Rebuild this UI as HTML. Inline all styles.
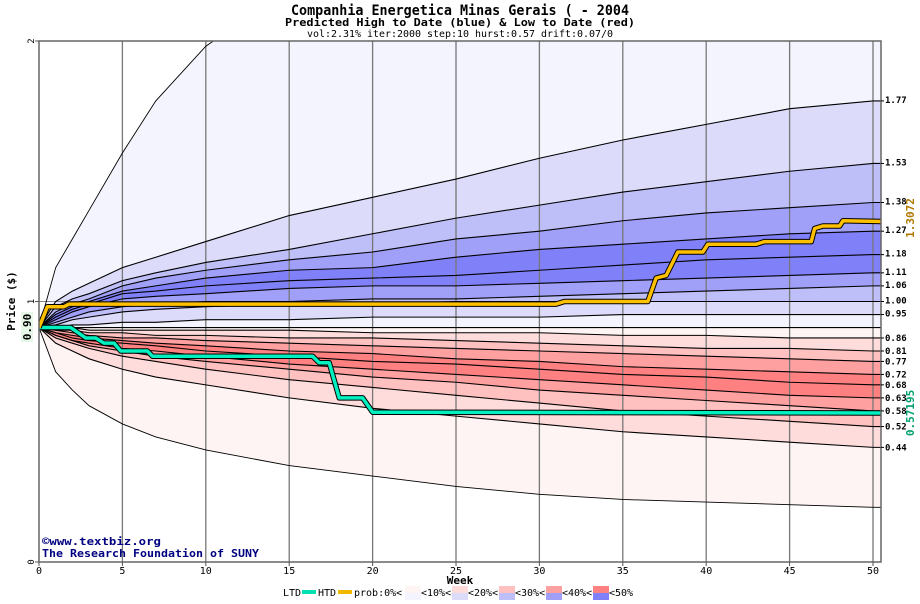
<!DOCTYPE html>
<html><head><meta charset="utf-8"><style>
body{margin:0;background:#fff;width:920px;height:600px;overflow:hidden;font-family:"DejaVu Sans Mono","Liberation Mono",monospace}
svg text{font-family:"DejaVu Sans Mono","Liberation Mono",monospace}
</style></head><body>
<svg id="chart" width="920" height="600" xmlns="http://www.w3.org/2000/svg">
<text x="460" y="15" text-anchor="middle" font-size="14" font-weight="bold" textLength="338" lengthAdjust="spacingAndGlyphs">Companhia Energetica Minas Gerais ( - 2004</text>
<text x="460" y="26" text-anchor="middle" font-size="11" font-weight="bold" textLength="350" lengthAdjust="spacingAndGlyphs">Predicted High to Date (blue) &amp;  Low to Date (red)</text>
<text x="460" y="37" text-anchor="middle" font-size="10" textLength="306" lengthAdjust="spacingAndGlyphs">vol:2.31% iter:2000 step:10 hurst:0.57 drift:0.07/0</text>
<defs><clipPath id="pc"><rect x="39" y="41" width="842" height="521"/></clipPath></defs>
<g id="bands" clip-path="url(#pc)"></g>
<g id="grid"></g>
<g id="curves" clip-path="url(#pc)"></g>
<g id="paths" clip-path="url(#pc)"></g>
<rect x="39" y="41" width="842" height="521" fill="none" stroke="#666" stroke-width="1.5"/>
<g id="axes"></g>
<text transform="translate(15,301) rotate(-90)" text-anchor="middle" font-size="11" font-weight="bold">Price ($)</text>
<rect x="21" y="312" width="12" height="30" fill="#e8f8e8"/>
<text transform="translate(31,327) rotate(-90)" text-anchor="middle" font-size="11" font-weight="bold" fill="#000">0.90</text>
<text x="460" y="584" text-anchor="middle" font-size="11" font-weight="bold">Week</text>
<text x="42" y="545" font-size="11" font-weight="bold" fill="#000080" textLength="119" lengthAdjust="spacingAndGlyphs">©www.textbiz.org</text>
<text x="42" y="557" font-size="11" font-weight="bold" fill="#000080" textLength="217" lengthAdjust="spacingAndGlyphs">The Research Foundation of SUNY</text>
<text transform="translate(914,218) rotate(-90)" text-anchor="middle" font-size="11" font-weight="bold" fill="#b07800">1.3072</text>
<text transform="translate(914,413) rotate(-90)" text-anchor="middle" font-size="11" font-weight="bold" fill="#00a070">0.57195</text>
<g id="legend" font-size="10">
<text x="283" y="596">LTD</text>
<rect x="302" y="590" width="14" height="4" fill="#00e0b0"/>
<text x="318" y="596">HTD</text>
<rect x="338" y="590" width="14" height="4" fill="#f0b800"/>
<text x="354" y="596">prob:0%&lt;</text>
<rect x="405" y="586" width="16" height="7" fill="#fff4f4"/><rect x="405" y="593" width="16" height="7" fill="#f4f4ff"/>
<text x="421" y="596">&lt;10%&lt;</text>
<rect x="452" y="586" width="16" height="7" fill="#ffdcdc"/><rect x="452" y="593" width="16" height="7" fill="#dcdcfa"/>
<text x="468" y="596">&lt;20%&lt;</text>
<rect x="499" y="586" width="16" height="7" fill="#ffc0c0"/><rect x="499" y="593" width="16" height="7" fill="#bebef8"/>
<text x="515" y="596">&lt;30%&lt;</text>
<rect x="546" y="586" width="16" height="7" fill="#ffa0a0"/><rect x="546" y="593" width="16" height="7" fill="#a0a0f8"/>
<text x="562" y="596">&lt;40%&lt;</text>
<rect x="593" y="586" width="16" height="7" fill="#ff8080"/><rect x="593" y="593" width="16" height="7" fill="#8080f8"/>
<text x="609" y="596">&lt;50%</text>
</g>
</svg>
<script>
const weeks=[0,1,2,3,5,7,10,15,20,25,30,35,40,45,50];
const blueMax=[0.90,1.13,1.24,1.35,1.57,1.77,1.98,2.2,2.4,2.5,2.6,2.7,2.8,2.9,3.0];
const blue177=[0.90,1.00,1.04,1.07,1.13,1.17,1.23,1.33,1.40,1.47,1.55,1.62,1.68,1.74,1.77];
const blue153=[0.90,0.98,1.01,1.03,1.08,1.11,1.15,1.20,1.26,1.32,1.37,1.42,1.46,1.50,1.53];
const blue138=[0.90,0.96,0.99,1.01,1.06,1.09,1.12,1.16,1.19,1.24,1.27,1.31,1.34,1.36,1.38];
const blue127=[0.90,0.95,0.98,1.00,1.04,1.06,1.09,1.12,1.13,1.17,1.20,1.22,1.24,1.26,1.27];
const blue118=[0.90,0.94,0.97,0.99,1.03,1.04,1.06,1.08,1.09,1.10,1.12,1.14,1.16,1.17,1.18];
const blue111=[0.90,0.93,0.96,0.98,1.01,1.02,1.03,1.05,1.06,1.06,1.07,1.08,1.09,1.10,1.11];
const blue106=[0.90,0.92,0.94,0.96,0.98,0.99,1.00,1.00,1.01,1.01,1.02,1.03,1.04,1.05,1.06];
const blue100=[0.90,0.91,0.93,0.94,0.96,0.97,0.98,0.99,0.99,1.00,1.00,1.00,1.00,1.00,1.00];
const blue095=[0.90,0.90,0.91,0.91,0.92,0.92,0.93,0.93,0.94,0.94,0.94,0.95,0.95,0.95,0.95];
const base090=[0.90,0.90,0.90,0.90,0.90,0.90,0.90,0.90,0.90,0.90,0.90,0.90,0.90,0.90,0.90];
const red086=[0.90,0.90,0.90,0.89,0.89,0.89,0.89,0.89,0.88,0.88,0.88,0.87,0.87,0.86,0.86];
const red081=[0.90,0.89,0.89,0.88,0.88,0.87,0.87,0.86,0.86,0.85,0.84,0.83,0.82,0.82,0.81];
const red077=[0.90,0.89,0.88,0.87,0.86,0.86,0.85,0.84,0.83,0.82,0.81,0.80,0.79,0.78,0.77];
const red072=[0.90,0.88,0.87,0.86,0.85,0.84,0.83,0.81,0.80,0.78,0.77,0.75,0.74,0.73,0.72];
const red068=[0.90,0.88,0.86,0.85,0.84,0.83,0.81,0.79,0.77,0.76,0.74,0.72,0.71,0.69,0.68];
const red063=[0.90,0.87,0.85,0.84,0.82,0.81,0.79,0.76,0.74,0.72,0.70,0.68,0.66,0.64,0.63];
const red058=[0.90,0.87,0.85,0.83,0.81,0.79,0.77,0.74,0.71,0.69,0.66,0.64,0.62,0.60,0.58];
const red052=[0.90,0.86,0.84,0.82,0.79,0.77,0.74,0.70,0.67,0.64,0.61,0.58,0.56,0.54,0.52];
const red044=[0.90,0.84,0.81,0.78,0.74,0.71,0.68,0.63,0.59,0.56,0.53,0.50,0.48,0.46,0.44];
const redMin=[0.90,0.73,0.66,0.60,0.53,0.48,0.43,0.37,0.33,0.29,0.26,0.24,0.23,0.22,0.21];
const htdWeeks=[0,0.5,1.5,1.8,31,31.5,36.5,37,37.6,38.3,39.8,40.1,43,43.5,46.3,46.5,47,48,48.2,50.5];
const htdVals=[0.90,0.98,0.98,0.99,0.99,1.00,1.00,1.09,1.10,1.19,1.19,1.22,1.22,1.23,1.23,1.28,1.29,1.29,1.31,1.3072];
const ltdWeeks=[0,1.9,2.8,3.4,3.9,4.5,4.9,6.5,6.8,16.4,16.8,17.4,18.0,19.4,20.0,50.5];
const ltdVals=[0.90,0.90,0.86,0.86,0.84,0.84,0.81,0.81,0.79,0.79,0.765,0.765,0.63,0.63,0.575,0.572];
const xTicks=[0,5,10,15,20,25,30,35,40,45,50];
const yTicks=[0,1,2];
const rightLabels=["1.77","1.53","1.38","1.27","1.18","1.11","1.06","1.00","0.95","0.86","0.81","0.77","0.72","0.68","0.63","0.58","0.52","0.44"];

const NS="http://www.w3.org/2000/svg";
const X=w=>39+w*16.68, Y=p=>562-p*260.5;
function mk(tag,parent,attrs){const e=document.createElementNS(NS,tag);for(const k in attrs)e.setAttribute(k,attrs[k]);parent.appendChild(e);return e;}
function pts(vals){const a=weeks.map((w,i)=>[X(w),Y(vals[i])]);a.push([882,Y(vals[vals.length-1])]);return a;}
const curves=[blueMax,blue177,blue153,blue138,blue127,blue118,blue111,blue106,blue100,blue095,base090,red086,red081,red077,red072,red068,red063,red058,red052,red044,redMin];
const names=["blue-max","blue-177","blue-153","blue-138","blue-127","blue-118","blue-111","blue-106","blue-100","blue-095","base-090","red-086","red-081","red-077","red-072","red-068","red-063","red-058","red-052","red-044","red-min"];
const fills=["#f4f4ff","#dcdcfa","#bebef8","#a0a0f8","#8080f8","#8080f8","#a0a0f8","#bebef8","#dcdcfa","#f4f4ff","#fff4f4","#ffdcdc","#ffc0c0","#ffa0a0","#ff8080","#ff8080","#ffa0a0","#ffc0c0","#ffdcdc","#fff4f4"];
const bands=document.getElementById('bands');
for(let i=0;i<curves.length-1;i++){
  const a=pts(curves[i]),b=pts(curves[i+1]).reverse();
  const p=mk('polygon',bands,{points:a.concat(b).map(q=>q.join(',')).join(' '),fill:fills[i]});
  
  
}
const grid=document.getElementById('grid');
xTicks.forEach(t=>{if(t===0)return;const l=mk('line',grid,{x1:X(t),x2:X(t),y1:41,y2:562,stroke:'#777','stroke-width':1.3});
  
  });
const hl=mk('line',grid,{x1:39,x2:881,y1:Y(1),y2:Y(1),stroke:'#888','stroke-width':1});


const cg=document.getElementById('curves');
curves.forEach((c,i)=>{const pl=mk('polyline',cg,{points:pts(c).map(q=>q.join(',')).join(' '),fill:'none',stroke:'#000','stroke-width':(i===0||i===curves.length-1)?0.9:1.1});
  
  });
const pg=document.getElementById('paths');
function step(ws,vs,col,name){const d=ws.map((w,i)=>X(w)+','+Y(vs[i])).join(' ');
  mk('polyline',pg,{points:d,fill:'none',stroke:'#000','stroke-width':5.5,'stroke-linejoin':'round'});
  const l=mk('polyline',pg,{points:d,fill:'none',stroke:col,'stroke-width':3.5,'stroke-linejoin':'round'});
  
  }
step(ltdWeeks,ltdVals,'#00f0c0','ltd-line');
step(htdWeeks,htdVals,'#ffc000','htd-line');
const ax=document.getElementById('axes');
xTicks.forEach(t=>{mk('line',ax,{x1:X(t),x2:X(t),y1:562,y2:566,stroke:'#555'});
  const tx=mk('text',ax,{x:X(t),y:574,'text-anchor':'middle','font-size':10});tx.textContent=t;
  
  });
yTicks.forEach(t=>{mk('line',ax,{x1:35,x2:39,y1:Y(t),y2:Y(t),stroke:'#555'});
  const tx=mk('text',ax,{transform:`translate(34,${Y(t)}) rotate(-90)`,'text-anchor':'middle','font-size':9});tx.textContent=t;
  
  });
rightLabels.forEach(s=>{const v=parseFloat(s);const y=Y(v)+(v<0.9?3:2);
  mk('line',ax,{x1:881,x2:884,y1:Y(v),y2:Y(v),stroke:'#000'});
  const tx=mk('text',ax,{x:885,y:y,'font-size':9,'font-weight':'bold'});tx.textContent=s;
  
  });
</script>
</body></html>
